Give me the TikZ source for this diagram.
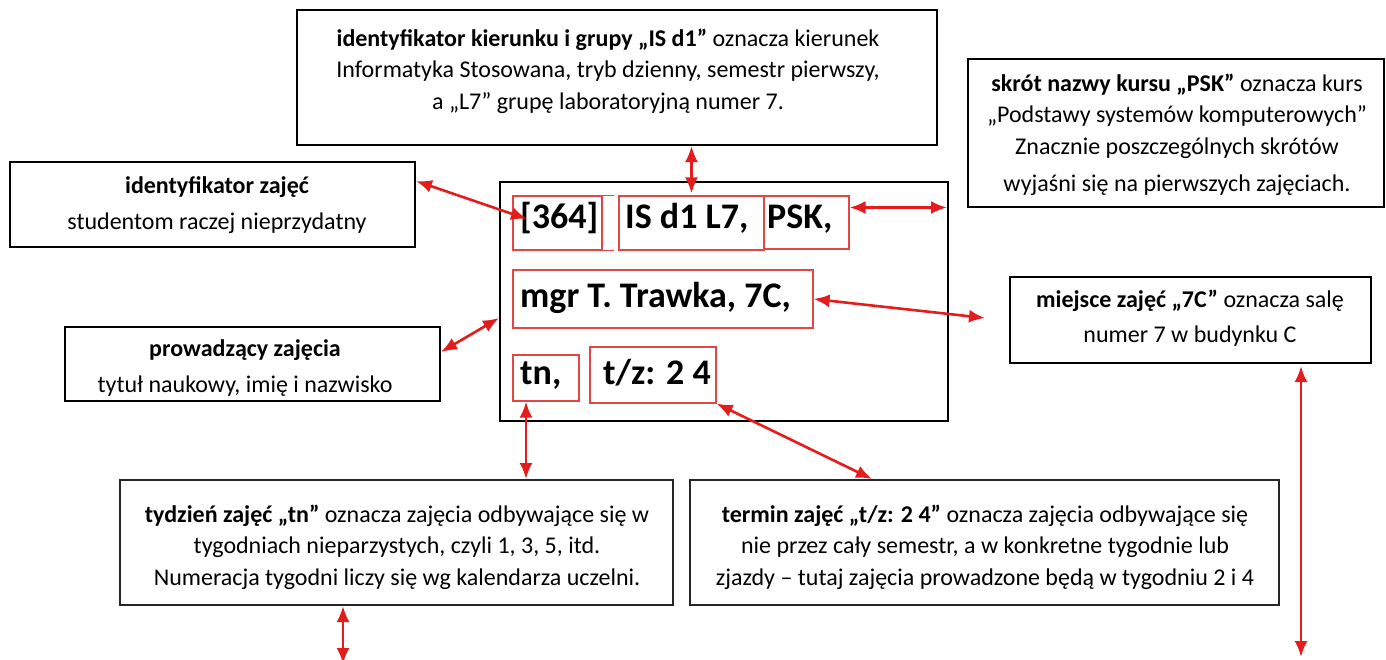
\documentclass[tikz,border=0pt]{standalone}
\usepackage{fontspec}
\setmainfont{Carlito}
\usetikzlibrary{arrows.meta}
\definecolor{arrred}{RGB}{228,28,28}
\definecolor{boxred}{RGB}{228,70,70}
\tikzset{
  blackbox/.style={draw=black, line width=2pt, inner sep=0pt},
  redbox/.style={draw=boxred, line width=1.2pt, inner sep=0pt},
  desc/.style={inner sep=0pt, align=center, font=\fontsize{24}{31.5}\selectfont},
  big/.style={inner sep=0pt, anchor=base west, font=\fontsize{36}{40}\selectfont\bfseries},
  dbl/.style={draw=arrred, line width=2.6pt, {Latex[length=16pt,width=13pt]}-{Latex[length=16pt,width=13pt]}}
}
\begin{document}
\begin{tikzpicture}[x=1pt,y=-1pt]
\clip (0,0) rectangle (1386,659);
\fill[white] (0,0) rectangle (1386,659);

% black description boxes
\node[blackbox, minimum width=640pt, minimum height=135pt] (top) at (617,77.5) {};
\node[blackbox, minimum width=405pt, minimum height=85pt] (lid) at (212.5,204.5) {};
\node[blackbox, minimum width=375pt, minimum height=74pt] (prow) at (252.5,364) {};
\node[blackbox, minimum width=448pt, minimum height=239pt] (main) at (724,301.5) {};
\node[blackbox, minimum width=416pt, minimum height=148pt] (pskd) at (1176,133) {};
\node[blackbox, minimum width=361pt, minimum height=86pt] (miej) at (1190.5,320) {};
\node[blackbox, draw=black!85, minimum width=553pt, minimum height=125pt] (tnd) at (396.5,542.5) {};
\node[blackbox, draw=black!85, minimum width=589pt, minimum height=125pt] (tzd) at (984.5,542.5) {};

% red boxes inside main box
\node[redbox, minimum width=89pt, minimum height=54pt] (b364) at (557.5,223) {};
\draw[boxred, line width=1.2pt] (b364.north east) -- ++(11,0) (b364.south east) -- ++(11,0);
\node[redbox, minimum width=145pt, minimum height=54pt] (isd) at (691.5,223) {};
\node[redbox, minimum width=85pt, minimum height=53pt] (pskb) at (806.5,222.5) {};
\node[redbox, minimum width=300pt, minimum height=58pt] (mgr) at (663,299) {};
\node[redbox, minimum width=66pt, minimum height=46pt] (tnb) at (546,378) {};
\node[redbox, minimum width=126pt, minimum height=56pt] (tzb) at (653,375) {};

% big texts
\node[big] (t364) at (520,228) {[364]};
\node[big] (tis) at (625,228) {IS d1 L7,};
\node[big] (tpsk) at (767,228) {PSK,};
\node[big] (tmgr) at (520,307) {mgr T. Trawka, 7C,};
\node[big] (ttn) at (520,384) {tn,};
\node[big] (ttz) at (603,384) {t/z: 2 4};

% description texts
\node[desc] (ttop) at (608,71) {\textbf{identyfikator kierunku i grupy „IS d1”} oznacza kierunek\\Informatyka Stosowana, tryb dzienny, semestr pierwszy,\\a „L7” grupę laboratoryjną numer 7.};
\node[desc] (tlid) at (217,205) {\textbf{identyfikator zajęć}\\[5pt]studentom raczej nieprzydatny};
\node[desc] (tprow) at (245,368) {\textbf{prowadzący zajęcia}\\[5pt]tytuł naukowy, imię i nazwisko};
\node[desc] (tpskd) at (1177,135) {\textbf{skrót nazwy kursu „PSK”} oznacza kurs\\„Podstawy systemów komputerowych”\\Znacznie poszczególnych skrótów\\[6pt]wyjaśni się na pierwszych zajęciach.};
\node[desc] (tmiej) at (1190,318) {\textbf{miejsce zajęć „7C”} oznacza salę\\[3pt]numer 7 w budynku C};
\node[desc] (ttnd) at (397,547) {\textbf{tydzień zajęć „tn”} oznacza zajęcia odbywające się w\\tygodniach nieparzystych, czyli 1, 3, 5, itd.\\Numeracja tygodni liczy się wg kalendarza uczelni.};
\node[desc] (ttzd) at (985,547) {\textbf{termin zajęć „t/z: 2 4”} oznacza zajęcia odbywające się\\nie przez cały semestr, a w konkretne tygodnie lub\\zjazdy – tutaj zajęcia prowadzone będą w tygodniu 2 i 4};

% free ends
\coordinate (c364) at (527,219);
\coordinate (c7c) at (985,318);
\coordinate (cb1) at (343,664);
\coordinate (cb2) at (1301,657);

% connectors
\draw[dbl] (top.south -| isd.north) -- ([yshift=2pt]isd.north);
\draw[dbl] ([yshift=-20pt]lid.north east) -- (c364);
\draw[dbl] ([yshift=-26pt]prow.north east) -- ([yshift=-16.5pt]main.west);
\draw[dbl] ([yshift=15pt]pskb.east) -- ([yshift=15pt,xshift=-2pt]pskb.east -| main.east);
\draw[dbl] (mgr.east) -- (c7c);
\draw[dbl] ([xshift=-20pt]tnb.south) -- ([xshift=-20pt]tnb.south |- tnd.north);
\draw[dbl] (tzb.south east) -- ([xshift=183pt]tzd.north west);
\draw[dbl] ([xshift=-53.5pt]tnd.south) -- (cb1);
\draw[dbl] ([xshift=110.5pt,yshift=-2pt]miej.south) -- (cb2);
\end{tikzpicture}
\end{document}
